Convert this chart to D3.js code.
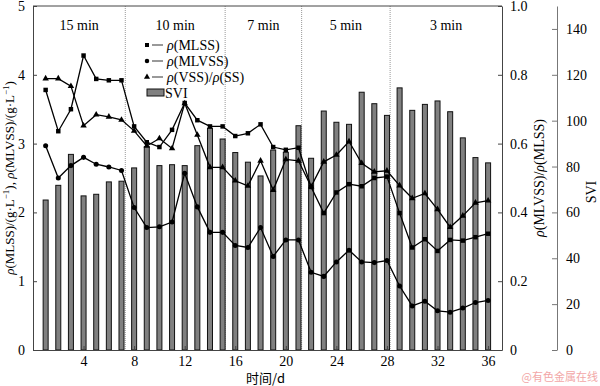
<!DOCTYPE html>
<html>
<head>
<meta charset="utf-8">
<script src="https://cdn.jsdelivr.net/npm/d3@7"></script>
<style>
  body { margin: 0; background: #fff; }
  svg text { font-family: "Liberation Serif", "Times New Roman", serif; }
</style>
</head>
<body>
<div class="chart"></div>
<script>
// data
const days = d3.range(1, 37);
const mlss = [3.78, 3.18, 3.50, 4.28, 3.94, 3.92, 3.92, 3.25, 3.02, 2.95, 3.20, 3.59,
  3.34, 3.25, 3.25, 3.11, 3.15, 3.28, 2.95, 2.91, 2.94, 2.37, 1.99, 2.29,
  2.41, 2.38, 2.50, 2.52, 1.99, 1.49, 1.61, 1.44, 1.60, 1.59, 1.64, 1.69];
const mlvss = [2.97, 2.50, 2.68, 2.80, 2.70, 2.66, 2.61, 2.07, 1.78, 1.79, 1.86, 2.57,
  2.08, 1.71, 1.71, 1.52, 1.49, 1.78, 1.36, 1.60, 1.60, 1.13, 1.07, 1.28,
  1.45, 1.28, 1.27, 1.30, 0.93, 0.64, 0.71, 0.57, 0.55, 0.61, 0.69, 0.72];
const ratio = [0.789, 0.789, 0.767, 0.652, 0.684, 0.678, 0.669, 0.637, 0.593, 0.615, 0.586, 0.717,
  0.625, 0.531, 0.531, 0.492, 0.477, 0.55, 0.465, 0.554, 0.55, 0.475, 0.547, 0.567,
  0.606, 0.543, 0.518, 0.521, 0.478, 0.441, 0.455, 0.409, 0.357, 0.39, 0.428, 0.434];
const svi = [65.4, 71.8, 85.3, 67.2, 67.9, 73.3, 73.6, 79.4, 88.7, 80.4, 80.8, 80.4,
  89.1, 96.7, 92.0, 86.1, 81.9, 75.9, 87.2, 86.2, 97.8, 83.6, 104.2, 99.3,
  98.4, 112.4, 107.4, 102.3, 114.3, 104.5, 107.1, 108.6, 103.9, 92.5, 83.9, 81.6];
const phaseBreaks = [7.3, 15.2, 21.25, 28.25];
const phaseLabels = ["15 min", "10 min", "7 min", "5 min", "3 min"];
const xTicks = [4, 8, 12, 16, 20, 24, 28, 32, 36];
const leftTicks = [0, 1, 2, 3, 4, 5];
const ratioTicks = [0, 0.2, 0.4, 0.6, 0.8, 1.0];
const sviTicks = [0, 20, 40, 60, 80, 100, 120, 140];

const margin = { top: 6, right: 98, bottom: 36, left: 33 };
const svgWidth = 600, svgHeight = 386;
const width = svgWidth - margin.left - margin.right;
const height = svgHeight - margin.top - margin.bottom;
const serif = "'Liberation Serif', 'Times New Roman', serif";

const x = d3.scaleLinear().domain([0, 37.1]).range([0, width]);
const y = d3.scaleLinear().domain([0, 5]).range([height, 0]);
const yR = d3.scaleLinear().domain([0, 1]).range([height, 0]);
const yS = d3.scaleLinear().domain([0, 150]).range([height, 0]);

const svg = d3.select(".chart").append("svg")
  .attr("width", svgWidth).attr("height", svgHeight);
const g = svg.append("g")
  .attr("transform", "translate(" + margin.left + "," + margin.top + ")");

// phase separators
g.selectAll(".sep").data(phaseBreaks).enter().append("line")
  .attr("x1", d => x(d)).attr("x2", d => x(d))
  .attr("y1", 0).attr("y2", height)
  .attr("stroke", "#999").attr("stroke-width", 1)
  .attr("stroke-dasharray", "1,1");

const bounds = [0].concat(phaseBreaks, [37.1]);
g.selectAll(".phase").data(phaseLabels).enter().append("text")
  .attr("x", (d, i) => x((bounds[i] + bounds[i + 1]) / 2))
  .attr("y", 24)
  .attr("text-anchor", "middle")
  .attr("font-size", 14)
  .text(d => d);

// SVI bars
const barW = 5;
g.selectAll(".bar").data(days).enter().append("rect")
  .attr("x", d => x(d) - barW / 2)
  .attr("y", (d, i) => yS(svi[i]))
  .attr("width", barW)
  .attr("height", (d, i) => height - yS(svi[i]))
  .attr("fill", "#808080")
  .attr("stroke", "#111").attr("stroke-width", 1);

// lines
function drawSeries(values, scale, shape) {
  const pts = days.map((d, i) => [x(d), scale(values[i])]);
  g.append("path").datum(pts)
    .attr("fill", "none").attr("stroke", "#000").attr("stroke-width", 1.3)
    .attr("d", d3.line());
  const sym = d3.symbol().type(shape).size(shape === d3.symbolTriangle ? 18 : 20);
  g.selectAll(null).data(pts).enter().append("path")
    .attr("transform", d => "translate(" + d[0] + "," + d[1] + ")")
    .attr("d", sym).attr("fill", "#000");
}
drawSeries(ratio, yR, d3.symbolTriangle);
drawSeries(mlvss, y, d3.symbolCircle);
drawSeries(mlss, y, d3.symbolSquare);

// frame + axes
const axisColor = "#444";
g.append("line").attr("x1", 0).attr("x2", width).attr("y1", 0).attr("y2", 0)
  .attr("stroke", axisColor);

const xAxis = g.append("g").attr("transform", "translate(0," + height + ")")
  .call(d3.axisBottom(x).tickValues(xTicks).tickSize(-4).tickPadding(6).tickSizeOuter(0));
const yAxis = g.append("g")
  .call(d3.axisLeft(y).tickValues(leftTicks).tickSize(-4).tickPadding(8).tickSizeOuter(0)
    .tickFormat(d3.format("d")));
const rAxis = g.append("g").attr("transform", "translate(" + width + ",0)")
  .call(d3.axisRight(yR).tickValues(ratioTicks).tickSize(-4).tickPadding(8).tickSizeOuter(0)
    .tickFormat(d => d === 0 ? "0" : d3.format(".1f")(d)));
const sAxis = g.append("g").attr("transform", "translate(" + (width + 55) + ",0)")
  .call(d3.axisRight(yS).tickValues(sviTicks).tickSize(-5).tickPadding(9).tickSizeOuter(0));

[xAxis, yAxis, rAxis, sAxis].forEach(a => {
  a.attr("font-family", serif);
  a.selectAll("path, line").attr("stroke", axisColor);
  a.selectAll("text").attr("font-size", 14).attr("fill", "#000")
    .attr("font-family", serif).style("font-family", serif);
});
sAxis.selectAll("path, line").attr("stroke", "#777");

// axis titles
svg.append("text")
  .attr("transform", "translate(14," + (margin.top + height / 2) + ") rotate(-90)")
  .attr("text-anchor", "middle").attr("font-size", 13)
  .html("<tspan font-style='italic'>ρ</tspan>(MLSS)/(g·L<tspan dy='-5' font-size='9'>−1</tspan><tspan dy='5'>),  </tspan><tspan font-style='italic'>ρ</tspan>(MLVSS)/(g·L<tspan dy='-5' font-size='9'>−1</tspan><tspan dy='5'>)</tspan>");

svg.append("text")
  .attr("transform", "translate(544," + (margin.top + height / 2) + ") rotate(-90)")
  .attr("text-anchor", "middle").attr("font-size", 14)
  .html("<tspan font-style='italic'>ρ</tspan>(MLVSS)/<tspan font-style='italic'>ρ</tspan>(MLSS)");

svg.append("text")
  .attr("transform", "translate(596,192) rotate(-90)")
  .attr("text-anchor", "middle").attr("font-size", 14)
  .text("SVI");

svg.append("text")
  .attr("x", margin.left + x(18.4)).attr("y", 383)
  .attr("text-anchor", "middle").attr("font-size", 13)
  .style("font-family", "'Noto Sans CJK SC', sans-serif")
  .text("时间/d");

// legend
const legend = svg.append("g").attr("transform", "translate(147,45)");
const legendItems = [
  { label: "(MLSS)", shape: d3.symbolSquare },
  { label: "(MLVSS)", shape: d3.symbolCircle },
  { label: "(VSS)/", shape: d3.symbolTriangle, extra: "(SS)" }
];
legendItems.forEach((it, i) => {
  const row = legend.append("g").attr("transform", "translate(0," + i * 16 + ")");
  row.append("path").attr("d", d3.symbol().type(it.shape).size(16)).attr("fill", "#000");
  row.append("line").attr("x1", 5).attr("x2", 16).attr("y1", 0).attr("y2", 0)
    .attr("stroke", "#555").attr("stroke-width", 1.2);
  const t = row.append("text").attr("x", 20).attr("y", 5).attr("font-size", 14);
  t.append("tspan").attr("font-style", "italic").text("ρ");
  t.append("tspan").text(it.label);
  if (it.extra) {
    t.append("tspan").attr("font-style", "italic").text("ρ");
    t.append("tspan").text(it.extra);
  }
});
legend.append("rect").attr("x", 0).attr("y", 44).attr("width", 17).attr("height", 7)
  .attr("fill", "#808080").attr("stroke", "#111");
legend.append("text").attr("x", 18).attr("y", 53).attr("font-size", 14).text("SVI");

// watermark
svg.append("text")
  .attr("x", 598).attr("y", 381).attr("text-anchor", "end")
  .attr("font-size", 11).attr("fill", "#f2a7a7")
  .style("font-family", "'Noto Sans CJK SC', sans-serif")
  .text("@有色金属在线");
</script>
</body>
</html>
